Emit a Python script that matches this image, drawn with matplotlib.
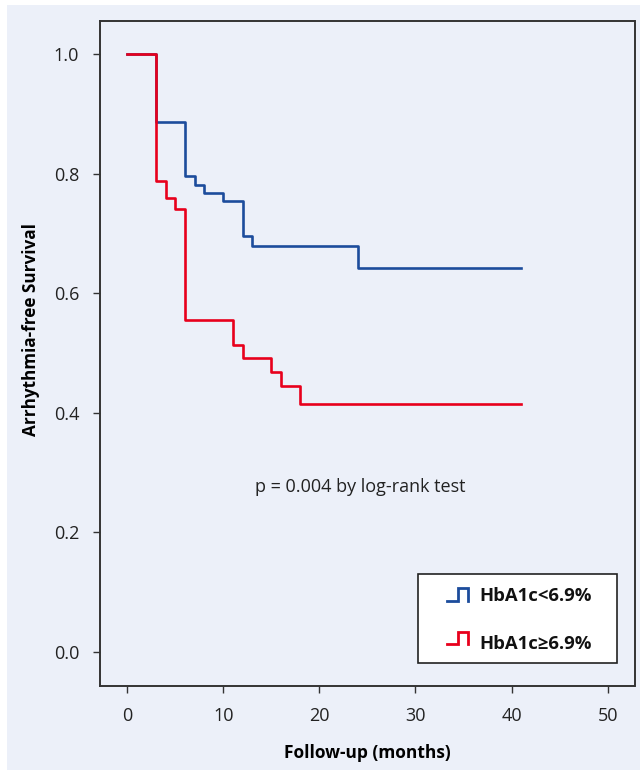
import matplotlib
matplotlib.use('Agg')
import matplotlib.pyplot as plt
from matplotlib.patches import Rectangle

plt.rcParams['font.family'] = ['Open Sans', 'DejaVu Sans']

# Kaplan-Meier step data
timeLow = [0, 3, 6, 7, 8, 10, 12, 13, 24, 41]
survLow = [1.0, 0.886, 0.796, 0.781, 0.768, 0.755, 0.695, 0.679, 0.642, 0.642]

timeHigh = [0, 3, 4, 5, 6, 11, 12, 15, 16, 18, 41]
survHigh = [1.0, 0.788, 0.759, 0.741, 0.555, 0.513, 0.491, 0.469, 0.445, 0.415, 0.415]

labels = ['HbA1c<6.9%', 'HbA1c\u22656.9%']
colors = ['#1c4c9c', '#e8001c']
xTicks = [0, 10, 20, 30, 40, 50]
yTicks = [0.0, 0.2, 0.4, 0.6, 0.8, 1.0]
bg = '#ecf0f9'

fig = plt.figure(figsize=(6.4, 7.75), dpi=100)
fig.patch.set_facecolor('white')
fig.patches.append(Rectangle((7 / 640, 5 / 775), 633 / 640, 765 / 775,
                             transform=fig.transFigure, facecolor=bg,
                             edgecolor='none', zorder=-10))

ax = fig.add_axes([100 / 640, 1 - 685.7 / 775, 534.5 / 640, 665 / 775])
ax.set_facecolor(bg)

ax.step(timeLow, survLow, where='post', color=colors[0], lw=1.9)
ax.step(timeHigh, survHigh, where='post', color=colors[1], lw=1.9)

ax.set_xlim(-2.84, 52.8)
ax.set_ylim(-0.0564, 1.0557)
ax.set_xticks(xTicks)
ax.set_yticks(yTicks)
ax.set_yticklabels(['%.1f' % v for v in yTicks])
ax.tick_params(direction='out', length=5, width=1, color='#333333',
               labelsize=13, labelcolor='#222222')
ax.tick_params(axis='x', pad=10)
ax.tick_params(axis='y', pad=10)

for side in ['top', 'right', 'bottom', 'left']:
    ax.spines[side].set_color('#333333')
    ax.spines[side].set_linewidth(1.4)

ax.set_xlabel('Follow-up (months)', fontsize=12.5, fontweight='bold', labelpad=14)
ax.set_ylabel('Arrhythmia-free Survival', fontsize=12.3, fontweight='bold')
ax.yaxis.set_label_coords(-0.112, 0.536)

ax.text(24.2, 0.276, 'p = 0.004 by log-rank test', fontsize=13,
        ha='center', va='center', color='#222222')

# legend box drawn by hand so the step glyphs look like the original
ax.add_patch(Rectangle((0.595, 0.034), 0.372, 0.134, transform=ax.transAxes,
                       facecolor='white', edgecolor='#222222', lw=1.2, zorder=5))
textY = [0.1344, 0.0627]
glyphLow = [0.1278, 0.0623]
glyphHigh = [0.1465, 0.0803]
for i in range(2):
    y0 = glyphLow[i]
    y1 = glyphHigh[i]
    gx = [0.6486, 0.6703, 0.6703, 0.6885, 0.6885]
    gy = [y0, y0, y1, y1, y0]
    ax.plot(gx, gy, color=colors[i], lw=2, transform=ax.transAxes,
            solid_joinstyle='miter', zorder=6, clip_on=False)
    ax.text(0.709, textY[i], labels[i], transform=ax.transAxes,
            fontsize=13.3, fontweight='bold', ha='left', va='center',
            color='#111111', zorder=6)

fig.savefig('out.png', dpi=100, facecolor=fig.get_facecolor())
